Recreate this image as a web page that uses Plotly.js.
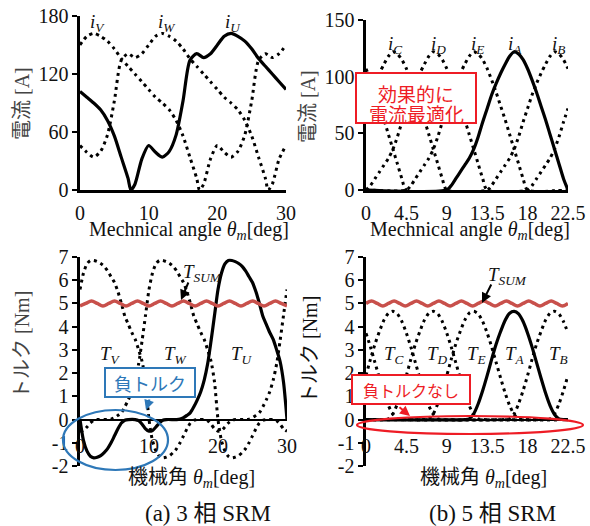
<!DOCTYPE html>
<html><head><meta charset="utf-8">
<script src="https://cdn.plot.ly/plotly-3.0.1.min.js"></script>
<style>html,body{margin:0;padding:0;background:#fff}#chart{width:590px;height:526px}</style>
</head><body><div id="chart"></div>
<script>
// ---------- (a) 3-phase currents [A] vs mechanical angle [deg] ----------
const xU = [0,1,2,3,4,5,6,7,7.4,8,9,10,11,12,13,14,15,16,17,18,19,20,21,22,23,24,25,26,27,28,29,30];
const iU = [102,96,90,83,72,56,34,12,0,6,32,46,39,34,40,57,92,134,141,137,141,150,159,162,159,154,146,136,128,120,112,104];
const xV = [0,1,2,3,4,5,6,7,8,9,10,11,12,13,14,15,16,17,17.4,18,19,20,21,22,23,24,25,26,27,28,29,30];
const iV = [150,159,162,159,154,146,136,128,120,112,104,96,90,83,72,56,34,12,0,6,32,46,39,34,40,57,92,134,141,137,141,150];
const xW = [0,1,2,3,4,5,6,7,8,9,10,11,12,13,14,15,16,17,18,19,20,21,22,23,24,25,26,27,27.4,28,29,30];
const iW = [46,39,34,40,57,92,134,141,137,141,150,159,162,159,154,146,136,128,120,112,104,96,90,83,72,56,34,12,0,6,32,46];

// ---------- (b) 5-phase currents [A] ----------
const xA = [0,9,9.5,10,10.5,11,11.5,12,12.5,13,13.5,14,14.5,15,15.5,16,16.5,17,17.5,18,18.5,19,19.5,20,20.5,21,21.5,22,22.5];
const iA = [0,0,4,10,16,22,28,36,47,60,72,84,94,103,111,118,122,120,115,107,97,86,74,62,49,36,23,10,0];
const xB = [0,0.5,1,1.5,2,2.5,3,3.5,4,4.5,13.5,14,14.5,15,15.5,16,16.5,17,17.5,18,18.5,19,19.5,20,20.5,21,21.5,22,22.5];
const iB = [107,97,86,74,62,49,36,23,10,0,0,4,10,16,22,28,36,47,60,72,84,94,103,111,118,122,120,115,107];
const xC = [0,0.5,1,1.5,2,2.5,3,3.5,4,4.5,5,5.5,6,6.5,7,7.5,8,8.5,9,18,18.5,19,19.5,20,20.5,21,21.5,22,22.5];
const iC = [72,84,94,103,111,118,122,120,115,107,97,86,74,62,49,36,23,10,0,0,4,10,16,22,28,36,47,60,72];
const xD = [0,0.5,1,1.5,2,2.5,3,3.5,4,4.5,5,5.5,6,6.5,7,7.5,8,8.5,9,9.5,10,10.5,11,11.5,12,12.5,13,13.5,22.5];
const iD = [0,4,10,16,22,28,36,47,60,72,84,94,103,111,118,122,120,115,107,97,86,74,62,49,36,23,10,0,0];
const xE = [0,4.5,5,5.5,6,6.5,7,7.5,8,8.5,9,9.5,10,10.5,11,11.5,12,12.5,13,13.5,14,14.5,15,15.5,16,16.5,17,17.5,18,22.5];
const iE = [0,0,4,10,16,22,28,36,47,60,72,84,94,103,111,118,122,120,115,107,97,86,74,62,49,36,23,10,0,0];

// ---------- (a) 3-phase torque [Nm] ----------
const xTU = [0,0.5,1,1.5,2,2.5,3,3.5,4,4.5,5,5.5,6,6.5,7,8,8.5,9,9.5,10,10.5,11,11.5,12,12.5,14,14.5,15,15.5,16,16.5,17,17.5,18,18.5,19,19.5,20,20.5,21,21.5,22,22.5,23,23.5,24,24.5,25,25.5,26,26.5,27,27.5,28,28.5,29,29.5,30];
const TU = [0,-0.9,-1.35,-1.58,-1.65,-1.62,-1.55,-1.42,-1.25,-1.0,-0.7,-0.4,-0.15,-0.03,0,0,-0.05,-0.2,-0.4,-0.5,-0.47,-0.32,-0.15,-0.03,0,0,0.02,0.08,0.18,0.3,0.55,0.85,1.2,1.7,2.4,3.4,4.5,5.6,6.3,6.7,6.85,6.85,6.8,6.72,6.6,6.4,6.15,5.9,5.5,5.0,4.45,4.1,3.75,3.45,3.0,2.5,1.6,0];
const xTV = [0,0.5,1,1.5,2,2.5,3,3.5,4,4.5,5,5.5,6,6.5,7,7.5,8,8.5,9,9.5,10,10.5,11,11.5,12,12.5,13,13.5,14,14.5,15,15.5,16,16.5,17,18,18.5,19,19.5,20,20.5,21,21.5,22,22.5,24,24.5,25,25.5,26,26.5,27,27.5,28,28.5,29,29.5,30];
const TV = [5.6,6.3,6.7,6.85,6.85,6.8,6.72,6.6,6.4,6.15,5.9,5.5,5.0,4.45,4.1,3.75,3.45,3.0,2.5,1.6,0,-0.9,-1.35,-1.58,-1.65,-1.62,-1.55,-1.42,-1.25,-1.0,-0.7,-0.4,-0.15,-0.03,0,0,-0.05,-0.2,-0.4,-0.5,-0.47,-0.32,-0.15,-0.03,0,0,0.02,0.08,0.18,0.3,0.55,0.85,1.2,1.7,2.4,3.4,4.5,5.6];
const xTW = [0,0.5,1,1.5,2,2.5,4,4.5,5,5.5,6,6.5,7,7.5,8,8.5,9,9.5,10,10.5,11,11.5,12,12.5,13,13.5,14,14.5,15,15.5,16,16.5,17,17.5,18,18.5,19,19.5,20,20.5,21,21.5,22,22.5,23,23.5,24,24.5,25,25.5,26,26.5,27,28,28.5,29,29.5,30];
const TW = [-0.5,-0.47,-0.32,-0.15,-0.03,0,0,0.02,0.08,0.18,0.3,0.55,0.85,1.2,1.7,2.4,3.4,4.5,5.6,6.3,6.7,6.85,6.85,6.8,6.72,6.6,6.4,6.15,5.9,5.5,5.0,4.45,4.1,3.75,3.45,3.0,2.5,1.6,0,-0.9,-1.35,-1.58,-1.65,-1.62,-1.55,-1.42,-1.25,-1.0,-0.7,-0.4,-0.15,-0.03,0,0,-0.05,-0.2,-0.4,-0.5];
const xSum3 = [0,0.83,1.67,2.5,3.33,4.17,5,5.83,6.67,7.5,8.33,9.17,10,10.83,11.67,12.5,13.33,14.17,15,15.83,16.67,17.5,18.33,19.17,20,20.83,21.67,22.5,23.33,24.17,25,25.83,26.67,27.5,28.33,29.17,30];
const TSUM3 = [4.89,5,5.11,5,4.89,5,5.11,5,4.89,5,5.11,5,4.89,5,5.11,5,4.89,5,5.11,5,4.89,5,5.11,5,4.89,5,5.11,5,4.89,5,5.11,5,4.89,5,5.11,5,4.89];

// ---------- (b) 5-phase torque [Nm] ----------
const xTA = [0,11,11.5,12,12.5,13,13.5,14,14.5,15,15.5,16,16.5,17,17.5,18,18.5,19,19.5,20,20.5,21,21.5,22,22.5];
const TA = [0,0,0.03,0.25,0.68,1.25,1.9,2.6,3.25,3.8,4.28,4.58,4.66,4.55,4.22,3.72,3.12,2.45,1.78,1.14,0.6,0.22,0.03,0,0];
const xTB = [0,0.5,1,1.5,2,2.5,3,3.5,4,15.5,16,16.5,17,17.5,18,18.5,19,19.5,20,20.5,21,21.5,22,22.5];
const TB = [3.72,3.12,2.45,1.78,1.14,0.6,0.22,0.03,0,0,0.03,0.25,0.68,1.25,1.9,2.6,3.25,3.8,4.28,4.58,4.66,4.55,4.22,3.72];
const xTC = [0,0.5,1,1.5,2,2.5,3,3.5,4,4.5,5,5.5,6,6.5,7,7.5,8,8.5,20,20.5,21,21.5,22,22.5];
const TC = [1.9,2.6,3.25,3.8,4.28,4.58,4.66,4.55,4.22,3.72,3.12,2.45,1.78,1.14,0.6,0.22,0.03,0,0,0.03,0.25,0.68,1.25,1.9];
const xTD = [0,2,2.5,3,3.5,4,4.5,5,5.5,6,6.5,7,7.5,8,8.5,9,9.5,10,10.5,11,11.5,12,12.5,13,22.5];
const TD = [0,0,0.03,0.25,0.68,1.25,1.9,2.6,3.25,3.8,4.28,4.58,4.66,4.55,4.22,3.72,3.12,2.45,1.78,1.14,0.6,0.22,0.03,0,0];
const xTE = [0,6.5,7,7.5,8,8.5,9,9.5,10,10.5,11,11.5,12,12.5,13,13.5,14,14.5,15,15.5,16,16.5,17,17.5,22.5];
const TE = [0,0,0.03,0.25,0.68,1.25,1.9,2.6,3.25,3.8,4.28,4.58,4.66,4.55,4.22,3.72,3.12,2.45,1.78,1.14,0.6,0.22,0.03,0,0];
const xSum5 = [0,0.625,1.25,1.875,2.5,3.125,3.75,4.375,5,5.625,6.25,6.875,7.5,8.125,8.75,9.375,10,10.625,11.25,11.875,12.5,13.125,13.75,14.375,15,15.625,16.25,16.875,17.5,18.125,18.75,19.375,20,20.625,21.25,21.875,22.5];
const TSUM5 = [5,5.11,5,4.89,5,5.11,5,4.89,5,5.11,5,4.89,5,5.11,5,4.89,5,5.11,5,4.89,5,5.11,5,4.89,5,5.11,5,4.89,5,5.11,5,4.89,5,5.11,5,4.89,5];

// tick labels
const ticks30 = [0,10,20,30];
const ticks225 = [0,4.5,9,13.5,18,22.5];
const ticks225Text = ['0','4.5','9','13.5','18','22.5'];
const ticksIa = [0,60,120,180];
const ticksIb = [0,50,100,150];
const ticksT = [-2,-1,0,1,2,3,4,5,6,7];
const ticksTText = ['-2','-1','0','1','2','3','4','5','6','7'];

// ---------- layout helpers ----------
const W = 590, H = 526;
const px = x => x / W, py = y => 1 - y / H;
const SERIF = 'Liberation Serif, Noto Sans CJK JP, serif';
const CJK = 'Noto Sans CJK JP, sans-serif';
const RED = '#EE1C25', BLUE = '#2E78B8', SUMC = '#C8504B';

const solid = (x, y, xa, ya) => ({x, y, xaxis: xa, yaxis: ya, type: 'scatter', mode: 'lines',
  line: {color: '#000', width: 3.2, shape: 'spline', smoothing: 0.7}, hoverinfo: 'skip'});
const dotted = (x, y, xa, ya) => ({x, y, xaxis: xa, yaxis: ya, type: 'scatter', mode: 'lines',
  line: {color: '#000', width: 3, dash: '3px,4px', shape: 'spline', smoothing: 0.7}, hoverinfo: 'skip'});
const sumLine = (x, y, xa, ya) => ({x, y, xaxis: xa, yaxis: ya, type: 'scatter', mode: 'lines',
  line: {color: SUMC, width: 3.5, shape: 'spline', smoothing: 1}, hoverinfo: 'skip'});

const data = [
  dotted(xV, iV, 'x', 'y'), dotted(xW, iW, 'x', 'y'), solid(xU, iU, 'x', 'y'),
  dotted(xB, iB, 'x2', 'y2'), dotted(xC, iC, 'x2', 'y2'), dotted(xD, iD, 'x2', 'y2'), dotted(xE, iE, 'x2', 'y2'), solid(xA, iA, 'x2', 'y2'),
  dotted(xTV, TV, 'x3', 'y3'), dotted(xTW, TW, 'x3', 'y3'), solid(xTU, TU, 'x3', 'y3'), sumLine(xSum3, TSUM3, 'x3', 'y3'),
  dotted(xTB, TB, 'x4', 'y4'), dotted(xTC, TC, 'x4', 'y4'), dotted(xTD, TD, 'x4', 'y4'), dotted(xTE, TE, 'x4', 'y4'), solid(xTA, TA, 'x4', 'y4'), sumLine(xSum5, TSUM5, 'x4', 'y4')
];

const tickFont = {family: 'Liberation Serif', size: 20, color: '#111'};
const baseX = {showgrid: false, zeroline: false, showline: true, linecolor: '#000', linewidth: 2.6,
  ticks: '', tickfont: tickFont, fixedrange: true, ticklabelstandoff: 3};
const baseY = {showgrid: false, zeroline: false, showline: true, linecolor: '#000', linewidth: 2.6,
  ticks: 'outside', ticklen: 5, tickwidth: 2, tickcolor: '#000', tickfont: tickFont, fixedrange: true};

const yd1 = [py(190), py(16)], yd2 = [py(190), py(20)], yd3 = [py(466), py(257)];
const zeroPos = yd3[0] + (2 / 9) * (yd3[1] - yd3[0]);

const layout = {
  width: W, height: H, margin: {l: 0, r: 0, t: 0, b: 0},
  paper_bgcolor: '#fff', plot_bgcolor: 'rgba(0,0,0,0)', showlegend: false,
  xaxis: Object.assign({}, baseX, {domain: [px(80), px(286)], anchor: 'y', range: [0, 30], tickvals: ticks30}),
  yaxis: Object.assign({}, baseY, {domain: yd1, anchor: 'x', range: [0, 180], tickvals: ticksIa}),
  xaxis2: Object.assign({}, baseX, {domain: [px(366), px(568)], anchor: 'y2', range: [0, 22.5], tickvals: ticks225, ticktext: ticks225Text}),
  yaxis2: Object.assign({}, baseY, {domain: yd2, anchor: 'x2', range: [0, 150], tickvals: ticksIb}),
  xaxis3: Object.assign({}, baseX, {domain: [px(80), px(287)], anchor: 'free', position: zeroPos, range: [0, 30], tickvals: ticks30, ticklabelstandoff: 8}),
  yaxis3: Object.assign({}, baseY, {domain: yd3, anchor: 'x3', range: [-2, 7], tickvals: ticksT, ticktext: ticksTText}),
  xaxis4: Object.assign({}, baseX, {domain: [px(366), px(568)], anchor: 'free', position: zeroPos, range: [0, 22.5], tickvals: ticks225, ticktext: ticks225Text, ticklabelstandoff: 8}),
  yaxis4: Object.assign({}, baseY, {domain: yd3, anchor: 'x4', range: [-2, 7], tickvals: ticksT, ticktext: ticksTText}),
  shapes: [
    {type: 'rect', xref: 'paper', yref: 'paper', x0: px(356), x1: px(476), y0: py(123), y1: py(73), line: {color: RED, width: 2}, fillcolor: '#fff', layer: 'above'},
    {type: 'rect', xref: 'paper', yref: 'paper', x0: px(105), x1: px(195), y0: py(397), y1: py(368), line: {color: BLUE, width: 2}, fillcolor: '#fff', layer: 'above'},
    {type: 'circle', xref: 'paper', yref: 'paper', x0: px(63), x1: px(168), y0: py(470), y1: py(410), line: {color: BLUE, width: 2.2}, layer: 'above'},
    {type: 'rect', xref: 'paper', yref: 'paper', x0: px(352), x1: px(470), y0: py(404), y1: py(375), line: {color: RED, width: 2}, fillcolor: '#fff', layer: 'above'},
    {type: 'circle', xref: 'paper', yref: 'paper', x0: px(357), x1: px(583), y0: py(434), y1: py(416), line: {color: RED, width: 2.2}, layer: 'above'}
  ],
  annotations: []
};

const A = layout.annotations;
const txt = (x, y, text, size, extra) => A.push(Object.assign({xref: 'paper', yref: 'paper', x: px(x), y: py(y),
  xanchor: 'center', yanchor: 'middle', showarrow: false, text, font: {family: SERIF, size, color: '#111'}}, extra || {}));
const sym = (b, s) => '<i>' + b + '</i><sub><i>' + s + '</i></sub>';

// phase labels
txt(97, 23, sym('i', 'V'), 19); txt(167, 23, sym('i', 'W'), 19); txt(233, 23, sym('i', 'U'), 19);
txt(395, 45, sym('i', 'C'), 19); txt(438, 45, sym('i', 'D'), 19); txt(477, 45, sym('i', 'E'), 19);
txt(515, 45, sym('i', 'A'), 19); txt(558, 45, sym('i', 'B'), 19);
txt(110, 355, sym('T', 'V'), 19); txt(176, 355, sym('T', 'W'), 19); txt(242, 355, sym('T', 'U'), 19);
txt(394, 355, sym('T', 'C'), 19); txt(437, 355, sym('T', 'D'), 19); txt(476, 355, sym('T', 'E'), 19);
txt(515, 355, sym('T', 'A'), 19); txt(558, 355, sym('T', 'B'), 19);
txt(202, 273, sym('T', 'SUM'), 19); txt(507, 276, sym('T', 'SUM'), 19);

// axis titles
const xt1 = 'Mechnical angle <i>θ</i><sub><i>m</i></sub>[deg]';
const xt2 = '機械角 <i>θ</i><sub><i>m</i></sub>[deg]';
txt(189, 230, xt1, 20); txt(470, 230, xt1, 20);
txt(191, 478, xt2, 20); txt(483, 478, xt2, 20);
txt(22, 104, '電流 [A]', 20, {textangle: -90, font: {family: SERIF, size: 20, color: '#444'}});
txt(308, 107, '電流 [A]', 20, {textangle: -90, font: {family: SERIF, size: 20, color: '#444'}});
txt(22, 345, 'トルク [Nm]', 20, {textangle: -90, font: {family: SERIF, size: 20, color: '#444'}});
txt(310, 350, 'トルク [Nm]', 20, {textangle: -90, font: {family: SERIF, size: 20, color: '#111'}});

// captions
txt(208, 513, '(a) 3 相 SRM', 23); txt(492, 513, '(b) 5 相 SRM', 23);

// callout texts
txt(416, 93, '効果的に', 19, {font: {family: CJK, size: 19, color: RED}});
txt(416, 113, '電流最適化', 19, {font: {family: CJK, size: 19, color: RED}});
txt(150, 383, '負トルク', 18, {font: {family: CJK, size: 18, color: BLUE}});
txt(411, 390, '負トルクなし', 16, {font: {family: CJK, size: 16, color: RED}});

// arrows
const arrow = (x, y, ax, ay, color) => A.push({xref: 'paper', yref: 'paper', x: px(x), y: py(y), ax, ay,
  showarrow: true, arrowhead: 2, arrowsize: 1, arrowwidth: 2, arrowcolor: color, text: ''});
arrow(181, 300, 8, -19, '#000');
arrow(482, 303, 10, -20, '#000');
arrow(146, 410, 4, -12, BLUE);
arrow(410, 416, -12, -10, RED);

Plotly.newPlot('chart', data, layout, {staticPlot: true, displayModeBar: false});
</script></body></html>
